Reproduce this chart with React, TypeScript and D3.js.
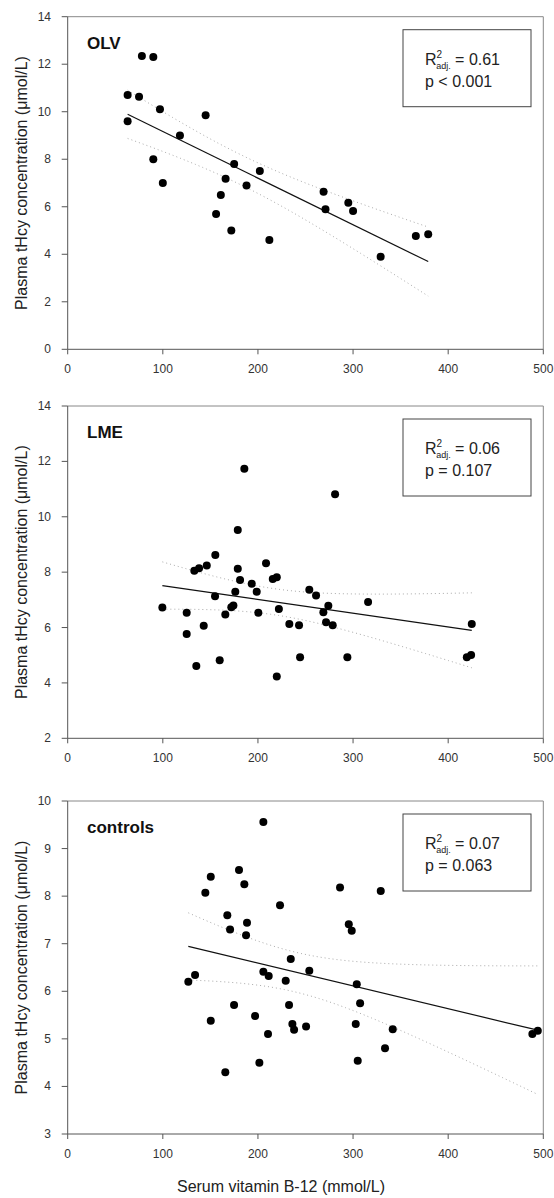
import React from 'react';
import * as d3 from 'd3';

// OLV group
const olvB12 = [63, 63, 78, 90, 75, 97, 145, 118, 90, 100, 175, 202, 166, 188, 161, 156, 172, 212, 269, 271, 295, 300, 366, 379, 329];
const olvHcy = [10.7, 9.6, 12.35, 12.3, 10.63, 10.1, 9.85, 9.0, 8.0, 7.0, 7.8, 7.5, 7.18, 6.9, 6.49, 5.7, 5.0, 4.6, 6.63, 5.9, 6.17, 5.82, 4.77, 4.84, 3.9];

// LME group
const lmeB12 = [185.7, 178.8, 155.2, 133.1, 138.1, 146.2, 178.8, 181.2, 193.5, 208.5, 215.6, 219.8, 99.5, 125.1, 125.1, 143, 135.2, 159.8, 154.9, 176.2, 198.7, 165.7, 172, 174.2, 200.4, 219.8, 222, 254, 261.1, 274, 268.8, 271.6, 278.6, 233, 243.2, 244.3, 294, 281.1, 315.8, 424.8, 419.6, 424.1];
const lmeHcy = [11.73, 9.52, 8.62, 8.05, 8.14, 8.24, 8.12, 7.72, 7.58, 8.32, 7.75, 7.82, 6.72, 6.53, 5.77, 6.06, 4.61, 4.82, 7.13, 7.29, 7.29, 6.47, 6.73, 6.8, 6.53, 4.23, 6.67, 7.36, 7.16, 6.79, 6.55, 6.19, 6.08, 6.13, 6.08, 4.93, 4.93, 10.81, 6.92, 6.13, 4.93, 5.01];

// controls
const ctrlB12 = [205.7, 180.1, 185.7, 150.4, 144.7, 167.8, 170.7, 188.5, 187.5, 223.2, 126.8, 133.9, 205.7, 211.3, 286.3, 329.1, 295.5, 298.6, 234.5, 254, 229.2, 303.9, 150.4, 174.9, 197, 210.6, 201.5, 165.7, 232.7, 236.2, 238, 250.6, 307.4, 302.8, 341.7, 333.6, 304.9, 488.5, 494.2];
const ctrlHcy = [9.56, 8.55, 8.25, 8.41, 8.07, 7.6, 7.3, 7.44, 7.18, 7.81, 6.2, 6.34, 6.41, 6.32, 8.18, 8.11, 7.41, 7.27, 6.68, 6.43, 6.22, 6.15, 5.38, 5.71, 5.48, 5.1, 4.5, 4.3, 5.71, 5.31, 5.19, 5.26, 5.75, 5.31, 5.2, 4.8, 4.54, 5.1, 5.17];

const xTicks = [0, 100, 200, 300, 400, 500];
const olvTicks = [0, 2, 4, 6, 8, 10, 12, 14];
const lmeTicks = [2, 4, 6, 8, 10, 12, 14];
const ctrlTicks = [3, 4, 5, 6, 7, 8, 9, 10];

const groupNames = ['OLV', 'LME', 'controls'];
const r2Values = ['0.61', '0.06', '0.07'];
const pValues = ['< 0.001', '= 0.107', '= 0.063'];
const tCrits = [2.069, 2.021, 2.026];

const FONT = 'Liberation Sans, Arial, sans-serif';
const left = 67.7;
const right = 543.3;

const panels = [
  { b12: olvB12, hcy: olvHcy, ticks: olvTicks, top: 16.7, bottom: 349.3 },
  { b12: lmeB12, hcy: lmeHcy, ticks: lmeTicks, top: 406, bottom: 738.3 },
  { b12: ctrlB12, hcy: ctrlHcy, ticks: ctrlTicks, top: 801, bottom: 1134 },
];

const x = d3.scaleLinear().domain([0, 500]).range([left, right]);

// least squares fit plus 95% confidence band of the mean
function fit(xs: number[], ys: number[], t: number) {
  const n = xs.length;
  const mx = d3.mean(xs)!;
  const my = d3.mean(ys)!;
  const sxx = d3.sum(xs, (v) => (v - mx) ** 2);
  const sxy = d3.sum(xs, (v, i) => (v - mx) * (ys[i] - my));
  const b = sxy / sxx;
  const a = my - b * mx;
  const sse = d3.sum(xs, (v, i) => (ys[i] - (a + b * v)) ** 2);
  const s = Math.sqrt(sse / (n - 2));
  const half = (v: number) => t * s * Math.sqrt(1 / n + (v - mx) ** 2 / sxx);
  return { a, b, half };
}

function Panel({ idx }: { idx: number }) {
  const p = panels[idx];
  const y = d3.scaleLinear().domain([p.ticks[0], p.ticks[p.ticks.length - 1]]).range([p.bottom, p.top]);
  const { a, b, half } = fit(p.b12, p.hcy, tCrits[idx]);
  const [x0, x1] = d3.extent(p.b12) as [number, number];
  const xs = d3.range(0, 41).map((i) => x0 + ((x1 - x0) * i) / 40);
  const line = d3.line<number>().x((v) => x(v));
  const upper = line.y((v) => y(a + b * v + half(v)))(xs)!;
  const lower = line.y((v) => y(a + b * v - half(v)))(xs)!;
  const fitPath = line.y((v) => y(a + b * v))([x0, x1])!;
  const boxTop = p.top + 13;
  return (
    <g>
      {/* frame */}
      <line x1={left} x2={right} y1={p.top} y2={p.top} stroke="#888" />
      <line x1={right} x2={right} y1={p.top} y2={p.bottom} stroke="#888" />
      <line x1={left} x2={left} y1={p.top} y2={p.bottom} stroke="#555" />
      <line x1={left} x2={right} y1={p.bottom} y2={p.bottom} stroke="#555" />
      {p.ticks.map((t) => (
        <g key={'y' + t}>
          <line x1={left - 6} x2={left} y1={y(t)} y2={y(t)} stroke="#555" />
          <text x={51} y={y(t) + 4} textAnchor="end" fontSize={12} fill="#333" fontFamily={FONT}>
            {t}
          </text>
        </g>
      ))}
      {xTicks.map((t) => (
        <g key={'x' + t}>
          <line x1={x(t)} x2={x(t)} y1={p.bottom} y2={p.bottom + 5} stroke="#555" />
          <text x={x(t)} y={p.bottom + 23.5} textAnchor="middle" fontSize={12} fill="#333" fontFamily={FONT}>
            {t}
          </text>
        </g>
      ))}
      <text
        transform={`translate(27,${(p.top + p.bottom) / 2}) rotate(-90)`}
        textAnchor="middle"
        fontSize={16}
        fill="#222"
        fontFamily={FONT}
      >
        Plasma tHcy concentration (μmol/L)
      </text>
      <text x={87} y={p.top + 32} fontSize={17} fontWeight="bold" fill="#111" fontFamily={FONT}>
        {groupNames[idx]}
      </text>
      <path d={upper} fill="none" stroke="#aaa" strokeWidth={1} strokeDasharray="1,3" />
      <path d={lower} fill="none" stroke="#aaa" strokeWidth={1} strokeDasharray="1,3" />
      <path d={fitPath} fill="none" stroke="#111" strokeWidth={1.2} />
      {p.b12.map((v, i) => (
        <circle key={i} cx={x(v)} cy={y(p.hcy[i])} r={4} fill="#000" />
      ))}
      <rect x={403} y={boxTop} width={128} height={77} fill="#fff" stroke="#444" />
      <text x={425} y={boxTop + 35} fontSize={16} fill="#222" fontFamily={FONT}>
        R
        <tspan fontSize={10} dy={-7}>2</tspan>
        <tspan fontSize={9} dy={11} dx={-6}>adj.</tspan>
        <tspan dy={-4}> = {r2Values[idx]}</tspan>
      </text>
      <text x={425} y={boxTop + 57} fontSize={16} fill="#222" fontFamily={FONT}>
        p {pValues[idx]}
      </text>
    </g>
  );
}

export default function App() {
  return (
    <svg width={554} height={1198} style={{ position: 'absolute', left: 0, top: 0, background: '#fff' }}>
      <rect width={554} height={1198} fill="#fff" />
      {panels.map((_, i) => (
        <Panel key={i} idx={i} />
      ))}
      <text x={281} y={1192} textAnchor="middle" fontSize={16} fill="#222" fontFamily={FONT}>
        Serum vitamin B-12 (mmol/L)
      </text>
    </svg>
  );
}
